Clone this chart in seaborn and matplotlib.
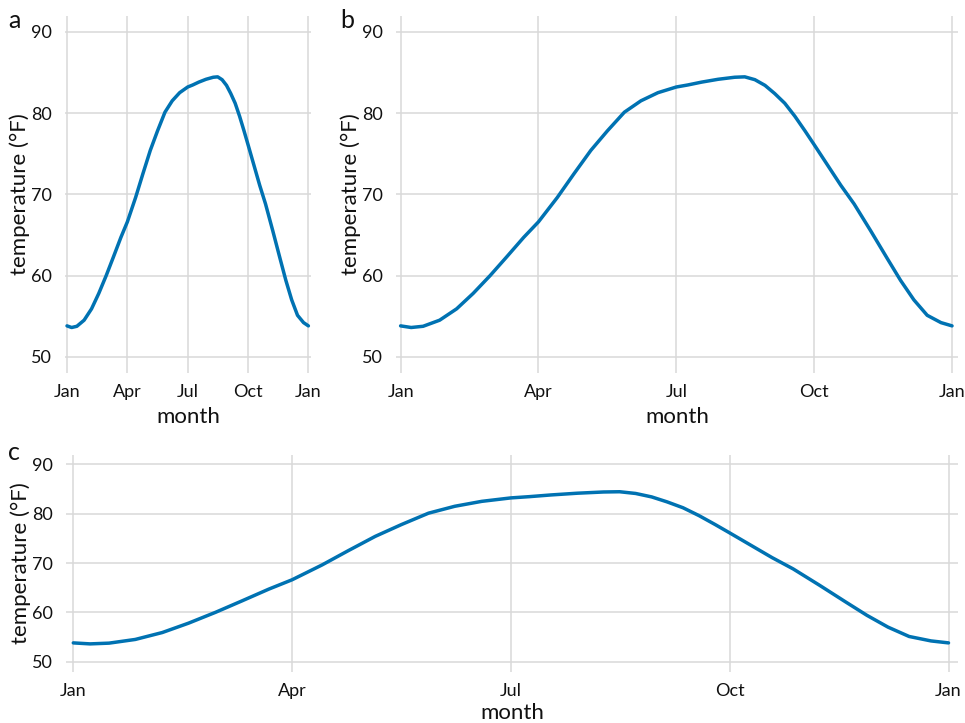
import matplotlib
matplotlib.use("Agg")
import matplotlib.pyplot as plt
import seaborn as sns
import pandas as pd

# data: month offset from Jan 1 (0..12) and temperature (°F)
months = [0, 0.23, 0.49, 0.85, 1.22, 1.58, 1.95, 2.31, 2.68, 3.0, 3.41, 3.77,
          4.14, 4.5, 4.87, 5.23, 5.6, 6.0, 6.25, 6.55, 6.91, 7.27, 7.49, 7.71,
          7.93, 8.14, 8.36, 8.58, 8.8, 9.0, 9.29, 9.58, 9.87, 10.23, 10.59,
          10.88, 11.17, 11.46, 11.76, 12.0]
temps = [53.8, 53.6, 53.75, 54.5, 55.9, 57.8, 60.0, 62.3, 64.7, 66.6, 69.6, 72.5,
         75.4, 77.8, 80.1, 81.5, 82.5, 83.2, 83.45, 83.8, 84.15, 84.4, 84.45, 84.1,
         83.4, 82.4, 81.2, 79.6, 77.8, 76.1, 73.6, 71.1, 68.8, 65.5, 62.1,
         59.4, 57.0, 55.1, 54.2, 53.8]
tick_pos = [0, 3, 6, 9, 12]
tick_labels = ["Jan", "Apr", "Jul", "Oct", "Jan"]
y_ticks = [50, 60, 70, 80, 90]
panel_labels = ["a", "b", "c"]

df = pd.DataFrame({"month": months, "temperature": temps})

sns.set_style("white")
plt.rcParams["font.family"] = ["Lato", "DejaVu Sans"]

W, H = 965, 723
fig = plt.figure(figsize=(W / 100, H / 100), dpi=100)

GRID = "#d9d9d9"
LINE = "#0072B2"

# panel boxes in pixels: left, right, top, bottom
boxes = [(65, 311, 15.5, 373), (396, 958, 15.5, 373), (66, 958, 454.5, 671.5)]
label_pos = [(8, 20), (340, 20), (8, 452)]
xlabel_pads = [4.5, 4.5, 2.8]

for i, (l, r, t, b) in enumerate(boxes):
    ax = fig.add_axes([l / W, 1 - b / H, (r - l) / W, (b - t) / H])
    sns.lineplot(data=df, x="month", y="temperature", ax=ax, color=LINE,
                 linewidth=2.5, solid_capstyle="round", solid_joinstyle="round")
    ax.set_xlim(-0.1, 12.13)
    ax.set_ylim(48, 92)
    ax.set_xticks(tick_pos)
    ax.set_xticklabels(tick_labels)
    ax.set_yticks(y_ticks)
    ax.grid(True, color=GRID, linewidth=1.1)
    ax.set_axisbelow(True)
    for s in ax.spines.values():
        s.set_visible(False)
    ax.tick_params(axis="both", length=5, width=1.1, color=GRID,
                   labelsize=13, labelcolor="#111111")
    ax.tick_params(axis="x", pad=3.2)
    ax.tick_params(axis="y", pad=4.5)
    ax.set_xlabel("month", fontsize=16, labelpad=xlabel_pads[i], color="#111111")
    ax.set_ylabel("temperature (°F)", fontsize=16, labelpad=0.5, color="#111111")
    fig.text(label_pos[i][0] / W, 1 - label_pos[i][1] / H, panel_labels[i],
             fontsize=18, va="center", ha="left", color="#111111")

fig.savefig("out.png", dpi=100, facecolor="white")
